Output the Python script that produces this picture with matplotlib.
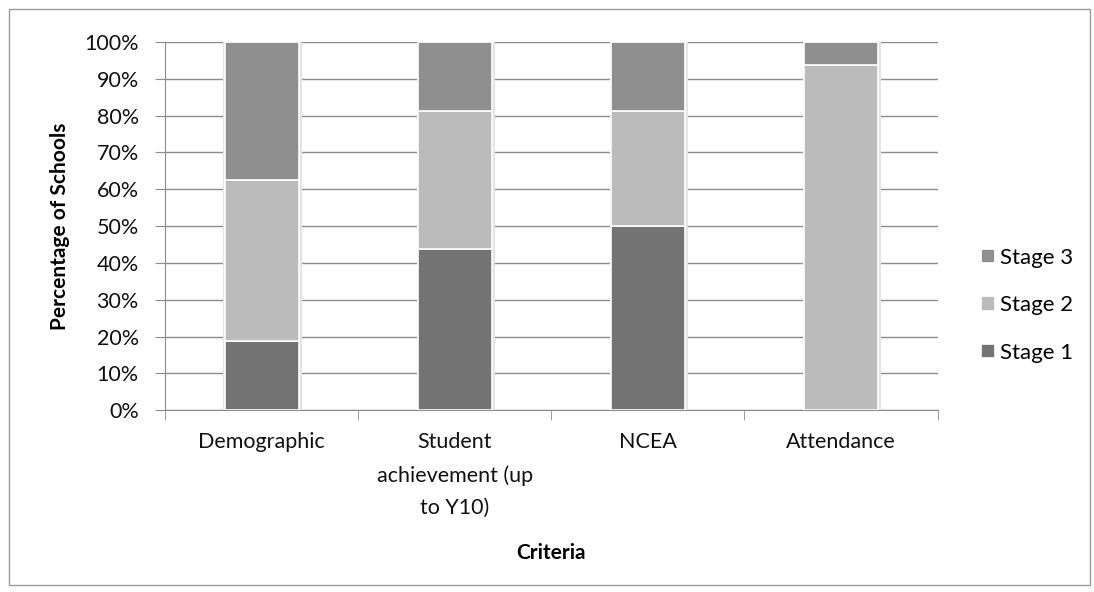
import numpy as np
import matplotlib.pyplot as plt
from matplotlib.patches import Rectangle
from matplotlib.ticker import PercentFormatter

# Share of schools at each stage, per criterion
criteria = ["Demographic", "Student\nachievement (up\nto Y10)", "NCEA", "Attendance"]
stage1 = [18.75, 43.75, 50.0, 0.0]
stage2 = [43.75, 37.5, 31.25, 93.75]
stage3 = [37.5, 18.75, 18.75, 6.25]
stage_names = ["Stage 1", "Stage 2", "Stage 3"]
stage_colors = ["#737373", "#bbbbbb", "#8f8f8f"]

plt.rcParams['font.family'] = ['Lato', 'DejaVu Sans']

fig = plt.figure(figsize=(10.94, 5.92), dpi=100)
fig.patches.append(Rectangle((0.008, 0.012), 0.988, 0.972, transform=fig.transFigure,
                             fill=False, edgecolor="#9a9a9a", linewidth=1.0))
ax = fig.add_axes([0.151, 0.307, 0.706, 0.622])

x = np.arange(len(criteria))
bottom = np.zeros(len(criteria))
for vals, name, col in zip([stage1, stage2, stage3], stage_names, stage_colors):
    # faint halo behind each segment
    ax.bar(x + 0.004, vals, 0.405, bottom=bottom, color="#e4e4e4", zorder=2, linewidth=0)
    ax.bar(x, vals, 0.385, bottom=bottom, color=col, edgecolor="white",
           linewidth=1.2, label=name, zorder=3)
    bottom += np.array(vals)

ax.set_xlim(-0.5, len(criteria) - 0.5)
ax.set_ylim(0, 100)
ax.set_yticks(np.arange(0, 101, 10))
ax.yaxis.set_major_formatter(PercentFormatter(decimals=0))
ax.yaxis.grid(True, color="#8c8c8c", linewidth=1.0, zorder=0)
ax.set_axisbelow(True)

ax.set_xticks(x)
ax.set_xticklabels(criteria, fontsize=15.5, linespacing=1.75, va="top", color="#111111")
ax.set_xticks(np.arange(-0.5, len(criteria)), minor=True)
ax.tick_params(axis="x", which="major", length=0, pad=16)
ax.tick_params(axis="x", which="minor", length=7, color="#8c8c8c", direction="out")
ax.tick_params(axis="y", length=7, color="#8c8c8c", labelsize=15.5, pad=12, labelcolor="#111111")

for side in ["top", "right"]:
    ax.spines[side].set_visible(False)
ax.spines["left"].set_color("#8c8c8c")
ax.spines["bottom"].set_color("#8c8c8c")

ax.set_ylabel("Percentage of Schools", fontsize=15, fontweight="bold", labelpad=10)
ax.set_xlabel("Criteria", fontsize=15, fontweight="bold", labelpad=18)

handles, labels = ax.get_legend_handles_labels()
ax.legend(handles[::-1], labels[::-1], loc="center left", bbox_to_anchor=(1.045, 0.285),
          frameon=False, fontsize=16, handlelength=0.6, handleheight=0.6,
          handletextpad=0.25, labelspacing=1.25, borderaxespad=0)

fig.savefig("out.png", dpi=100, facecolor="white")
